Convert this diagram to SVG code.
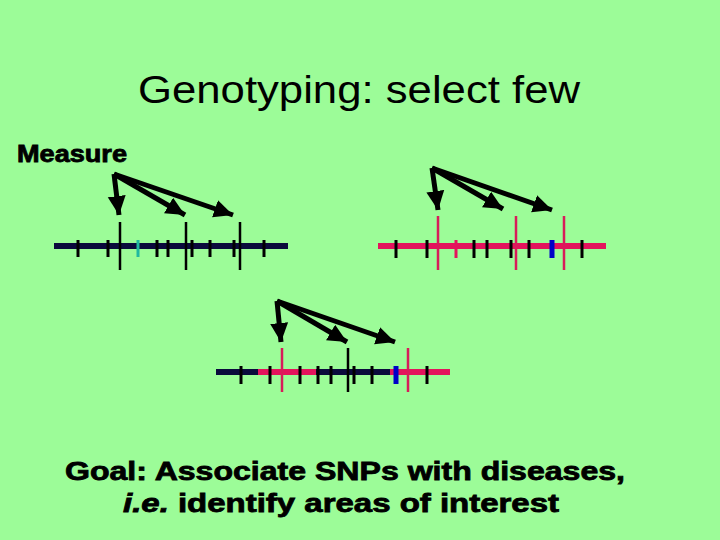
<svg xmlns="http://www.w3.org/2000/svg" width="720" height="540" viewBox="0 0 720 540">
<defs>
<marker id="ah" markerUnits="userSpaceOnUse" markerWidth="22" markerHeight="20" refX="19" refY="10" orient="auto">
<path d="M0,1 L19,10 L0,19 Z" fill="#000"/>
</marker>
<style>
.t{font-family:"Liberation Sans",Arial,sans-serif;fill:#000}
.b{font-weight:bold;stroke:#000;stroke-width:0.8}
.dk{stroke:#0a0a3c;stroke-width:6}
.pk{stroke:#e3145c;stroke-width:6}
.tk{stroke:#000;stroke-width:3}
.lk{stroke:#000;stroke-width:2.5}
.lp{stroke:#d81c5a;stroke-width:2.5}
.sp{stroke:#e3145c;stroke-width:3}
.bl{stroke:#0000c8;stroke-width:5}
.tl{stroke:#20b8a0;stroke-width:3}
.ar{stroke:#000;stroke-width:5;fill:none;marker-end:url(#ah)}
</style>
</defs>
<rect width="720" height="540" fill="#9cfc98"/>
<text class="t" x="138" y="103" font-size="38" textLength="442" lengthAdjust="spacingAndGlyphs">Genotyping: select few</text>
<text class="t b" x="17" y="162" font-size="23" textLength="110" lengthAdjust="spacingAndGlyphs">Measure</text>

<g id="line1">
<line class="dk" x1="54" y1="246" x2="288" y2="246"/>
<g class="tk">
<line x1="78" y1="240" x2="78" y2="257"/><line x1="108" y1="240" x2="108" y2="257"/>
<line x1="157" y1="240" x2="157" y2="257"/><line x1="168" y1="240" x2="168" y2="257"/>
<line x1="192" y1="240" x2="192" y2="257"/><line x1="210" y1="240" x2="210" y2="257"/>
<line x1="234" y1="240" x2="234" y2="257"/><line x1="264" y1="240" x2="264" y2="257"/>
</g>
<line class="tl" x1="138" y1="240" x2="138" y2="257"/>
<g class="lk">
<line x1="120" y1="222" x2="120" y2="270"/><line x1="186" y1="222" x2="186" y2="270"/><line x1="240" y1="222" x2="240" y2="270"/>
</g>
</g>

<g id="line2">
<line class="pk" x1="378" y1="246" x2="606" y2="246"/>
<g class="tk">
<line x1="396" y1="240" x2="396" y2="258"/><line x1="427" y1="240" x2="427" y2="258"/>
<line x1="474" y1="240" x2="474" y2="258"/><line x1="487" y1="240" x2="487" y2="258"/>
<line x1="511" y1="240" x2="511" y2="258"/><line x1="529" y1="240" x2="529" y2="258"/>
<line x1="582" y1="240" x2="582" y2="258"/>
</g>
<line class="sp" x1="456" y1="240" x2="456" y2="258"/>
<line class="bl" x1="552" y1="240" x2="552" y2="258"/>
<g class="lp">
<line x1="438" y1="216" x2="438" y2="270"/><line x1="516" y1="216" x2="516" y2="270"/><line x1="564" y1="216" x2="564" y2="270"/>
</g>
</g>

<g id="line3">
<line class="dk" x1="216" y1="372" x2="259" y2="372"/>
<line class="pk" x1="258" y1="372" x2="317" y2="372"/>
<line class="dk" x1="316" y1="372" x2="391" y2="372"/>
<line class="pk" x1="390" y1="372" x2="450" y2="372"/>
<g class="tk">
<line x1="241" y1="366" x2="241" y2="384"/><line x1="270" y1="366" x2="270" y2="384"/>
<line x1="300" y1="366" x2="300" y2="384"/><line x1="318" y1="366" x2="318" y2="384"/>
<line x1="331" y1="366" x2="331" y2="384"/><line x1="354" y1="366" x2="354" y2="384"/>
<line x1="372" y1="366" x2="372" y2="384"/><line x1="427" y1="366" x2="427" y2="384"/>
</g>
<line class="bl" x1="396" y1="366" x2="396" y2="384"/>
<line class="lp" x1="282" y1="348" x2="282" y2="392"/>
<line class="lk" x1="348" y1="348" x2="348" y2="392"/>
<line class="lp" x1="408" y1="348" x2="408" y2="392"/>
</g>

<g id="connectors">
<line class="ar" x1="114" y1="174" x2="119" y2="215"/>
<line class="ar" x1="114" y1="174" x2="185" y2="215"/>
<line class="ar" x1="114" y1="174" x2="233" y2="215"/>
<line class="ar" x1="432" y1="168" x2="438" y2="210"/>
<line class="ar" x1="432" y1="168" x2="503" y2="209"/>
<line class="ar" x1="432" y1="168" x2="552" y2="210"/>
<line class="ar" x1="277" y1="301" x2="281" y2="342"/>
<line class="ar" x1="277" y1="301" x2="347" y2="342"/>
<line class="ar" x1="277" y1="301" x2="395" y2="342"/>
</g>

<text class="t b" x="65" y="480" font-size="25.5" textLength="560" lengthAdjust="spacingAndGlyphs">Goal: Associate SNPs with diseases,</text>
<text class="t b" x="123" y="512" font-size="25.5" textLength="436" lengthAdjust="spacingAndGlyphs"><tspan font-style="italic">i.e.</tspan> identify areas of interest</text>
</svg>
